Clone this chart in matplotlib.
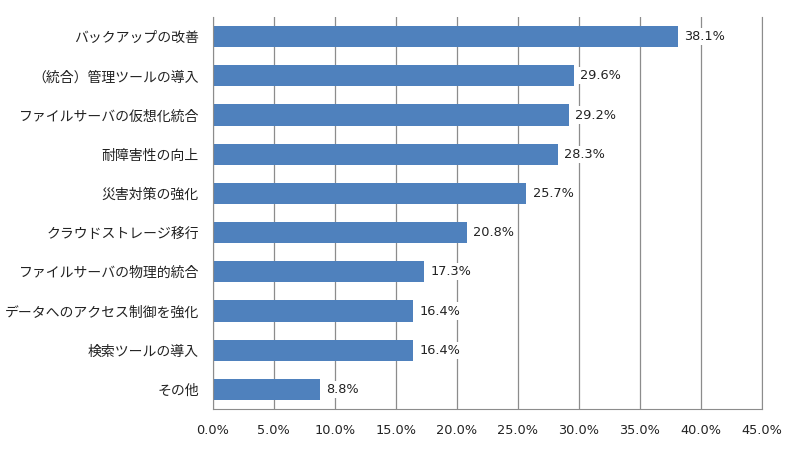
import matplotlib
matplotlib.use("Agg")
import matplotlib.pyplot as plt
from matplotlib.ticker import FuncFormatter

plt.rcParams['font.family'] = ['Noto Sans CJK JP', 'DejaVu Sans']

categories = ["バックアップの改善", "（統合）管理ツールの導入", "ファイルサーバの仮想化統合",
              "耐障害性の向上", "災害対策の強化", "クラウドストレージ移行",
              "ファイルサーバの物理的統合", "データへのアクセス制御を強化",
              "検索ツールの導入", "その他"]
values = [38.1, 29.6, 29.2, 28.3, 25.7, 20.8, 17.3, 16.4, 16.4, 8.8]
xticks = [0, 5, 10, 15, 20, 25, 30, 35, 40, 45]

fig = plt.figure(figsize=(8, 4.55), dpi=100)
ax = fig.add_axes([0.266, 0.101, 0.6865, 0.8616])

y = list(range(len(categories)))
ax.barh(y, values, height=0.54, color="#4F81BD", zorder=2)
ax.set_ylim(len(categories) - 0.5, -0.5)
ax.set_xlim(0, 45)
ax.set_xticks(xticks)
ax.xaxis.set_major_formatter(FuncFormatter(lambda v, p: f"{v:.1f}%"))
ax.set_yticks(y)
ax.set_yticklabels(categories, fontsize=10, color="#222222")
ax.tick_params(axis="both", length=0, colors="#222222")
ax.tick_params(axis="x", labelsize=9.3, pad=11)
ax.tick_params(axis="y", pad=10)
for lbl in ax.get_xticklabels():
    lbl.set_family("DejaVu Sans")
ax.grid(axis="x", color="#8c8c8c", lw=0.9, zorder=0)
ax.set_axisbelow(True)
for s in ["left", "bottom", "right"]:
    ax.spines[s].set_color("#8c8c8c")
ax.spines["top"].set_visible(False)

for yi, v in zip(y, values):
    ax.annotate(f"{v:.1f}%", (v, yi), xytext=(4.5, 0), textcoords="offset points",
                va="center", ha="left", fontsize=9.3, color="#222222", family="DejaVu Sans",
                bbox=dict(facecolor="white", edgecolor="none", pad=1.5), zorder=3)

fig.savefig("out.png", dpi=100)
